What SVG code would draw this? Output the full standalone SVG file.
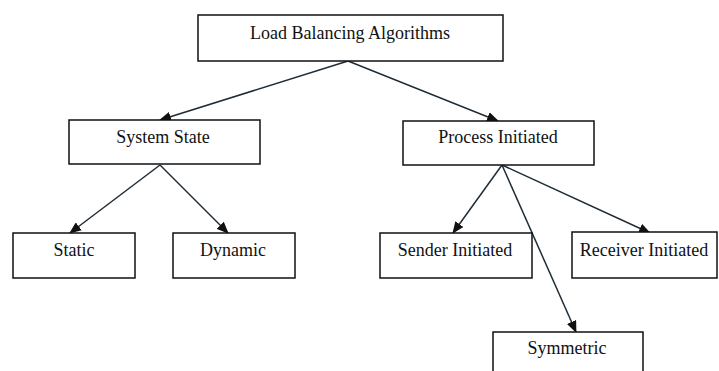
<svg xmlns="http://www.w3.org/2000/svg" width="719" height="371" viewBox="0 0 719 371">
<defs>
<marker id="ah" markerWidth="12" markerHeight="10" refX="11" refY="5" orient="auto" markerUnits="userSpaceOnUse">
<path d="M0,0 L12,5 L0,10 Z" fill="#111"/>
</marker>
<style>
.box{fill:#fff;stroke:#111;stroke-width:1.5}
.t{font-family:'Liberation Serif','DejaVu Serif',serif;font-size:18px;fill:#111;text-anchor:middle}
.c{stroke:#1e2c36;stroke-width:1.5;fill:none;marker-end:url(#ah)}
</style>
</defs>
<rect width="719" height="371" fill="#fff"/>
<g id="connectors">
<line class="c" x1="348" y1="61" x2="160" y2="120"/>
<line class="c" x1="348" y1="61" x2="498" y2="121"/>
<line class="c" x1="160" y1="165" x2="70" y2="233"/>
<line class="c" x1="160" y1="165" x2="228" y2="233"/>
<line class="c" x1="502" y1="165" x2="453" y2="233"/>
<line class="c" x1="502" y1="165" x2="650" y2="233"/>
<line class="c" x1="502" y1="165" x2="576" y2="332"/>
</g>
<g id="load-balancing">
<rect class="box" x="198" y="15" width="305" height="46"/>
<text class="t" x="350" y="39">Load Balancing Algorithms</text>
</g>
<g id="system-state">
<rect class="box" x="69" y="120" width="191" height="44"/>
<text class="t" x="163" y="143">System State</text>
</g>
<g id="process-initiated">
<rect class="box" x="403" y="121" width="191" height="44"/>
<text class="t" x="498" y="143">Process Initiated</text>
</g>
<g id="static">
<rect class="box" x="13" y="233" width="122" height="45"/>
<text class="t" x="74" y="256">Static</text>
</g>
<g id="dynamic">
<rect class="box" x="173" y="233" width="122" height="45"/>
<text class="t" x="233" y="256">Dynamic</text>
</g>
<g id="sender-initiated">
<rect class="box" x="380" y="233" width="152" height="45"/>
<text class="t" x="455" y="256">Sender Initiated</text>
</g>
<g id="receiver-initiated">
<rect class="box" x="572" y="232" width="145" height="46"/>
<text class="t" x="644" y="256">Receiver Initiated</text>
</g>
<g id="symmetric">
<rect class="box" x="493" y="332" width="150" height="45"/>
<text class="t" x="567" y="354">Symmetric</text>
</g>
</svg>
